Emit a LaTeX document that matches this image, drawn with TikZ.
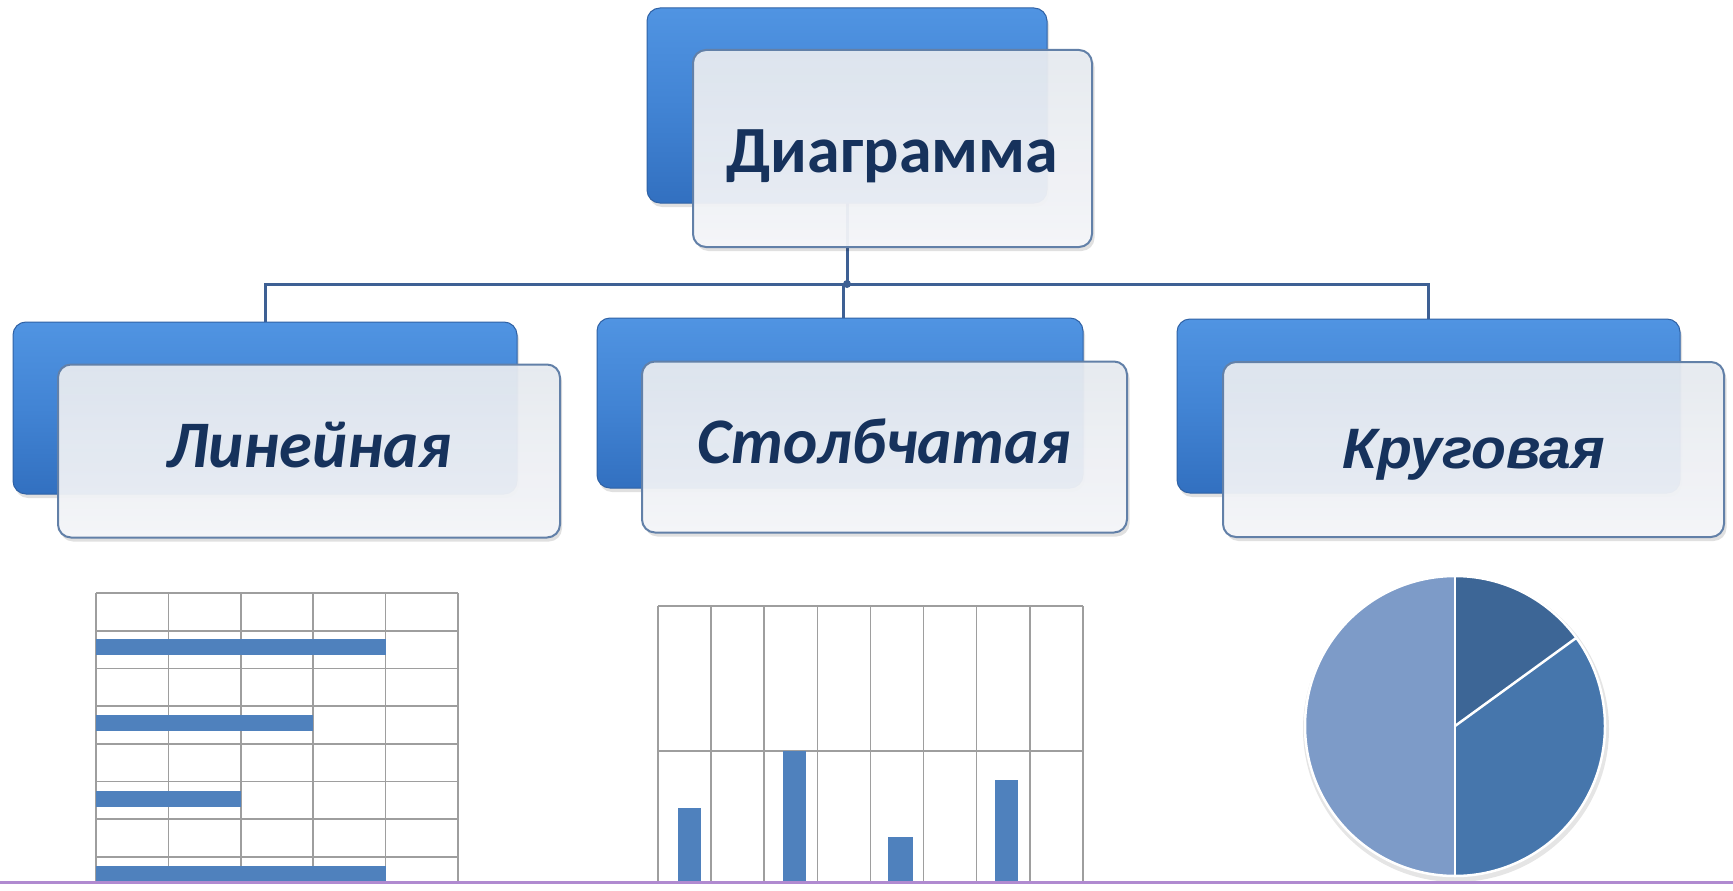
\documentclass[tikz,border=0pt]{standalone}
\usepackage{fontspec}
\setmainfont{Carlito}
\newfontfamily\arialfont{Liberation Sans}
\definecolor{backtop}{RGB}{80,148,226}
\definecolor{backmid}{RGB}{66,132,212}
\definecolor{backbot}{RGB}{50,112,192}
\definecolor{backdraw}{RGB}{48,98,165}
\definecolor{fronttop}{RGB}{231,235,241}
\definecolor{frontbot}{RGB}{246,247,250}
\definecolor{frontdraw}{RGB}{98,128,168}
\definecolor{txt}{RGB}{22,50,92}
\definecolor{conncol}{RGB}{62,96,148}
\definecolor{gridcol}{RGB}{158,158,158}
\definecolor{barcol}{RGB}{79,129,189}
\definecolor{piedark}{RGB}{61,102,150}
\definecolor{piemid}{RGB}{70,118,172}
\definecolor{pielight}{RGB}{125,155,200}
\definecolor{purp}{RGB}{176,138,208}
\begin{document}
\begin{tikzpicture}[x=1pt,y=-1pt,
  backbox/.style={rounded corners=13pt, top color=backtop, bottom color=backbot, middle color=backmid,
    draw=backdraw, line width=1pt, inner sep=0pt, outer sep=0pt},
  frontbox/.style={rounded corners=13pt, top color=fronttop, bottom color=frontbot,
    fill opacity=0.94, draw=frontdraw, draw opacity=1, line width=2pt, inner sep=0pt, outer sep=0pt},
  shadowbox/.style={rounded corners=13pt, fill=black, opacity=0.12, inner sep=0pt, outer sep=0pt},
  conn/.style={draw=conncol, line width=3pt},
  lbl/.style={text=txt, anchor=base, inner sep=0pt},
  gridline/.style={draw=gridcol, line width=1.6pt},
  barfill/.style={fill=barcol},
  sep/.style={draw=white, line width=2.5pt}
]
\useasboundingbox (0,0) rectangle (1733,891);
\fill[white] (0,0) rectangle (1733,891);

% connectors (behind boxes)
\coordinate (busy) at (0,284);
\node[inner sep=0pt, outer sep=0pt, minimum width=400pt, minimum height=195pt] (tbpos) at (847,105.5) {};
\draw[conn] (tbpos.south) -- (tbpos.south |- busy);
\node[inner sep=0pt, outer sep=0pt, minimum width=504pt, minimum height=172pt] (lbpos) at (265,408) {};
\node[inner sep=0pt, outer sep=0pt, minimum width=486pt, minimum height=170pt] (mbpos) at (843,403) {};
\node[inner sep=0pt, outer sep=0pt, minimum width=503pt, minimum height=174pt] (rbpos) at (1428.5,406) {};
\draw[conn] (lbpos.north) -- (lbpos.north |- busy) -- (rbpos.north |- busy) -- (rbpos.north);
\draw[conn] (mbpos.north) -- (mbpos.north |- busy);
\fill[conncol] (tbpos.south |- busy) circle (4);

% top node
\node[shadowbox, minimum width=400pt, minimum height=195pt] at (849,109.5) {};
\node[backbox, minimum width=400pt, minimum height=195pt] (tb) at (847,105.5) {};
\node[shadowbox, minimum width=399pt, minimum height=197pt] at (895,152.5) {};
\node[frontbox, minimum width=399pt, minimum height=197pt] (tf) at (892.5,148.5) {};
\node[lbl, font=\fontsize{66}{72}\selectfont\bfseries] (tt) at (tf.center |- 0,172) {Диаграмма};

% left child
\node[shadowbox, minimum width=504pt, minimum height=172pt] at (267,412) {};
\node[backbox, minimum width=504pt, minimum height=172pt] (lb) at (265,408) {};
\node[shadowbox, minimum width=502pt, minimum height=173pt] at (311,455) {};
\node[frontbox, minimum width=502pt, minimum height=173pt] (lf) at (309,451) {};
\node[lbl, font=\fontsize{66.5}{72}\selectfont\bfseries\itshape] (lt) at (lf.center |- 0,467) {Линейная};

% middle child
\node[shadowbox, minimum width=486pt, minimum height=170pt] at (842,407) {};
\node[backbox, minimum width=486pt, minimum height=170pt] (mb) at (840,403) {};
\node[shadowbox, minimum width=485pt, minimum height=171pt] at (887,451) {};
\node[frontbox, minimum width=485pt, minimum height=171pt] (mf) at (884.5,447) {};
\node[lbl, font=\fontsize{65}{70}\selectfont\bfseries\itshape] (mt) at (mf.center |- 0,463) {Столбчатая};

% right child
\node[shadowbox, minimum width=503pt, minimum height=174pt] at (1430.5,410) {};
\node[backbox, minimum width=503pt, minimum height=174pt] (rb) at (1428.5,406) {};
\node[shadowbox, minimum width=501pt, minimum height=175pt] at (1476,453.5) {};
\node[frontbox, minimum width=501pt, minimum height=175pt] (rf) at (1473.5,449.5) {};
\node[lbl, font=\fontsize{57}{64}\selectfont\arialfont\bfseries\itshape] (rt) at (rf.center |- 0,468) {Круговая};

% charts
\begin{scope}
\clip (0,0) rectangle (1733,880.5);
% horizontal bar chart
\foreach \j in {0,...,7} \draw[gridline] (96,593+37.7*\j) -- (458,593+37.7*\j);
\foreach \i in {0,...,5} \draw[gridline] (96+72.4*\i,593) -- (96+72.4*\i,891);
\fill[barfill] (96,639) rectangle (385.6,655);
\fill[barfill] (96,715) rectangle (313.2,731);
\fill[barfill] (96,791) rectangle (240.8,807);
\fill[barfill] (96,866) rectangle (385.6,882);
% column chart
\foreach \i in {0,...,8} \draw[gridline] (658+53.1*\i,606) -- (658+53.1*\i,891);
\draw[gridline] (658,606) -- (1082.8,606);
\draw[gridline] (658,751) -- (1082.8,751);
\fill[barfill] (678,808) rectangle (701,891);
\fill[barfill] (783,751) rectangle (806,891);
\fill[barfill] (888,837) rectangle (913,891);
\fill[barfill] (995,780) rectangle (1018,891);
% pie chart
\coordinate (pc) at (1455,726);
\fill[black, opacity=0.10] (1456,729) circle (153);
\fill[piedark] (pc) -- ++(-90:150) arc[start angle=-90, end angle=-36, radius=150] -- cycle;
\fill[piemid] (pc) -- ++(-36:150) arc[start angle=-36, end angle=90, radius=150] -- cycle;
\fill[pielight] (pc) -- ++(90:150) arc[start angle=90, end angle=270, radius=150] -- cycle;
\draw[sep] (pc) -- ++(-90:150);
\draw[sep] (pc) -- ++(-36:150);
\draw[sep] (pc) -- ++(90:150);
\draw[sep] (pc) circle (150);
\end{scope}

% bottom border line
\draw[purp, line width=3pt] (0,882) -- (1733,882);
\end{tikzpicture}
\end{document}
